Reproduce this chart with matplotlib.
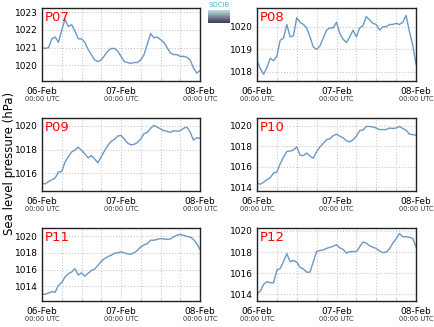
import numpy as np
import matplotlib
matplotlib.use("Agg")
from matplotlib import pyplot as plt

# hours since 06-Feb 00:00 UTC
hours = list(range(49))

p07 = [1021.0, 1020.95, 1021.0, 1021.5, 1021.6, 1021.3, 1022.0, 1022.6, 1022.2, 1022.3,
       1021.95, 1021.5, 1021.5, 1021.3, 1020.9, 1020.6, 1020.3, 1020.2, 1020.3, 1020.55,
       1020.8, 1020.95, 1020.95, 1020.8, 1020.5, 1020.2, 1020.15, 1020.1, 1020.15, 1020.15,
       1020.3, 1020.6, 1021.2, 1021.8, 1021.55, 1021.6, 1021.45, 1021.3, 1021.0, 1020.7,
       1020.6, 1020.6, 1020.5, 1020.5, 1020.45, 1020.3, 1019.85, 1019.55, 1019.7]
p08 = [1018.5, 1018.15, 1017.9, 1018.2, 1018.6, 1018.5, 1018.7, 1019.4, 1019.5, 1020.1,
       1019.55, 1019.6, 1020.4, 1020.2, 1020.1, 1019.95, 1019.55, 1019.1, 1019.0, 1019.15,
       1019.5, 1019.85, 1019.95, 1019.95, 1020.2, 1019.7, 1019.45, 1019.3, 1019.55, 1019.85,
       1019.55, 1019.95, 1020.05, 1020.45, 1020.3, 1020.15, 1020.1, 1019.85, 1020.0, 1020.0,
       1020.1, 1020.1, 1020.15, 1020.1, 1020.2, 1020.5, 1019.8, 1019.2, 1018.35]
p09 = [1015.15, 1015.1, 1015.3, 1015.45, 1015.6, 1016.1, 1016.15, 1016.95, 1017.4, 1017.8,
       1017.95, 1018.2, 1017.95, 1017.65, 1017.3, 1017.5, 1017.2, 1016.9, 1017.4, 1017.9,
       1018.35, 1018.7, 1018.85, 1019.15, 1019.2, 1018.9, 1018.55, 1018.4, 1018.45, 1018.6,
       1018.9, 1019.35, 1019.45, 1019.8, 1020.05, 1019.9, 1019.75, 1019.6, 1019.55, 1019.45,
       1019.6, 1019.55, 1019.6, 1019.8, 1019.9, 1019.5, 1018.8, 1019.0, 1018.95]
p10 = [1014.4, 1014.3, 1014.5, 1014.75, 1014.95, 1015.4, 1015.5, 1016.3, 1016.95, 1017.5,
       1017.55, 1017.65, 1017.95, 1017.15, 1017.1, 1017.35, 1017.05, 1016.85, 1017.5, 1017.95,
       1018.3, 1018.65, 1018.75, 1019.05, 1019.2, 1019.0, 1018.85, 1018.55, 1018.45, 1018.65,
       1019.0, 1019.55, 1019.6, 1019.95, 1019.95, 1019.9, 1019.8, 1019.65, 1019.65, 1019.65,
       1019.8, 1019.75, 1019.8, 1019.95, 1019.75, 1019.6, 1019.2, 1019.15, 1019.1]
p11 = [1013.05, 1013.05, 1013.2, 1013.35, 1013.3, 1014.1, 1014.45, 1015.1, 1015.5, 1015.7,
       1016.1, 1015.35, 1015.6, 1015.2, 1015.55, 1015.9, 1016.05, 1016.5, 1017.0, 1017.3,
       1017.55, 1017.7, 1017.95, 1018.0, 1018.1, 1018.0, 1017.85, 1017.85, 1018.0, 1018.3,
       1018.7, 1018.95, 1019.1, 1019.5, 1019.5, 1019.6, 1019.7, 1019.65, 1019.6, 1019.65,
       1019.9, 1020.1, 1020.2, 1020.1, 1019.95, 1019.9, 1019.6, 1019.1, 1018.4]
p12 = [1014.05, 1014.3, 1014.95, 1015.2, 1015.1, 1015.1, 1016.3, 1016.45, 1017.1, 1017.85,
       1017.1, 1017.2, 1017.05, 1016.55, 1016.4, 1016.1, 1016.1, 1017.1, 1018.05, 1018.15,
       1018.2, 1018.35, 1018.45, 1018.55, 1018.7, 1018.4, 1018.25, 1017.9, 1018.05, 1018.05,
       1018.05, 1018.5, 1018.95, 1018.85, 1018.6, 1018.45, 1018.35, 1018.1, 1017.95, 1018.0,
       1018.3, 1018.85, 1019.25, 1019.75, 1019.45, 1019.45, 1019.4, 1019.3, 1018.5]

names = ["P07", "P08", "P09", "P10", "P11", "P12"]
series = [p07, p08, p09, p10, p11, p12]
ylims = [(1019.1, 1023.25), (1017.6, 1020.83), (1014.5, 1020.67),
         (1013.64, 1020.78), (1012.24, 1020.96), (1013.37, 1020.28)]
yticks = [[1020, 1021, 1022, 1023], [1018, 1019, 1020], [1016, 1018, 1020],
          [1014, 1016, 1018, 1020], [1014, 1016, 1018, 1020], [1014, 1016, 1018, 1020]]
day_ticks = [0, 24, 48]
day_labels = ["06-Feb", "07-Feb", "08-Feb"]

W, H = 434, 327
fig = plt.figure(figsize=(W / 100, H / 100), dpi=100)

lefts = [42, 257]
tops = [8, 118, 228]
for i in range(6):
    col = i % 2
    row = i // 2
    l = lefts[col]
    w = 158 if col == 0 else 159
    t = tops[row]
    ax = fig.add_axes([l / W, 1 - (t + 73) / H, w / W, 73 / H])
    ax.plot(hours, series[i], color="#6b98c2", lw=1.0)
    ax.set_xlim(0, 48)
    ax.set_ylim(*ylims[i])
    ax.set_yticks(yticks[i])
    ax.set_yticklabels([str(v) for v in yticks[i]], fontsize=6.5)
    ax.set_xticks(day_ticks)
    ax.set_xticklabels(day_labels, fontsize=6.5)
    ax.set_xticks(range(6, 48, 6), minor=True)
    ax.tick_params(axis="both", which="major", length=0, pad=3)
    ax.tick_params(axis="x", which="major", pad=4)
    ax.tick_params(axis="x", which="minor", length=2, direction="in", color="#c8c8c8")
    ax.grid(True, which="both", axis="x", ls=":", color="#c8c8c8", lw=0.8)
    ax.grid(True, which="major", axis="y", ls=":", color="#c8c8c8", lw=0.8)
    for s in ax.spines.values():
        s.set_linewidth(1.0)
        s.set_color("#222222")
    for d in day_ticks:
        ax.text(d, -0.245, "00:00 UTC", transform=ax.get_xaxis_transform(),
                ha="center", va="center", fontsize=4.8, color="#333333")
    ax.text(0.02, 0.96, names[i], transform=ax.transAxes, ha="left", va="top",
            fontsize=9.5, color="red")

fig.text(10 / W, 1 - 163 / H, "Sea level pressure (hPa)", rotation=90,
         ha="center", va="center", fontsize=8.5)

# small logo between the top panels
fig.text(219 / W, 1 - 5 / H, "SOCIB", ha="center", va="center",
         fontsize=5, color="#3fb8d0")
lax = fig.add_axes([208 / W, 1 - 23 / H, 22 / W, 13 / H])
grad = np.linspace(0, 1, 20).reshape(-1, 1)
lax.imshow(grad, aspect="auto", cmap="bone_r", vmin=-0.3, vmax=1.5)
lax.axis("off")

fig.savefig("out.png", dpi=100)
